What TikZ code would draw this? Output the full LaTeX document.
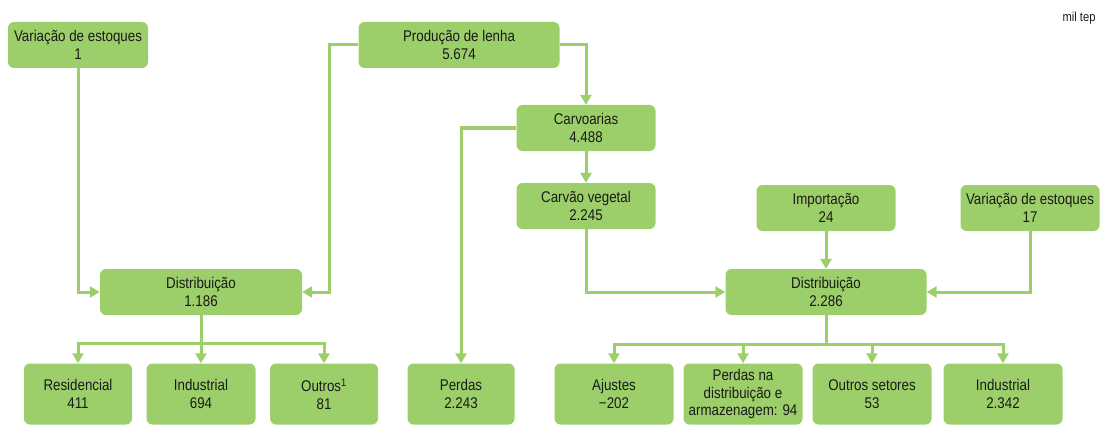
\documentclass[tikz,border=0pt]{standalone}
\usepackage{fontspec}
\setmainfont{Liberation Sans}[FakeStretch=0.86]
\usetikzlibrary{arrows.meta}
\definecolor{boxgreen}{HTML}{9CCF6A}
\definecolor{txtgray}{HTML}{1A1A1A}

\begin{document}
\begin{tikzpicture}[x=1pt,y=-1pt,
    box/.style={fill=boxgreen,rounded corners=6pt,align=center,inner sep=2pt,
        minimum height=46pt,text=txtgray,font=\fontsize{15.5}{18}\selectfont},
    leaf/.style={box,minimum height=61pt,font=\fontsize{15.5}{17.5}\selectfont},
    arr/.style={draw=boxgreen,line width=3pt,-{Triangle[length=10pt,width=11pt]}}]
    \useasboundingbox (0,0) rectangle (1102,425);
    \node[anchor=east,text=txtgray,font=\fontsize{13}{15}\selectfont] (unit) at (1099,18) {mil tep};
    \node[box,minimum width=140pt] (var1) at (78,45) {Variação de estoques\\1};
    \node[box,minimum width=201pt] (lenha) at (459,45) {Produção de lenha\\5.674};
    \node[box,minimum width=139pt] (carv) at (586,128) {Carvoarias\\4.488};
    \node[box,minimum width=139pt] (veg) at (586,206) {Carvão vegetal\\2.245};
    \node[box,minimum width=139pt] (imp) at (826,208) {Importação\\24};
    \node[box,minimum width=139pt] (var17) at (1030,208) {Variação de estoques\\17};
    \node[box,minimum width=202pt] (dist1) at (201,292) {Distribuição\\1.186};
    \node[box,minimum width=201pt] (dist2) at (826,292) {Distribuição\\2.286};
    \node[leaf,minimum width=108pt] (res) at (78,394) {Residencial\\411};
    \node[leaf,minimum width=109pt] (ind1) at (201,394) {Industrial\\694};
    \node[leaf,minimum width=108pt] (out1) at (324,394) {Outros\textsuperscript{1}\\81};
    \node[leaf,minimum width=107pt] (perdas) at (461,394) {Perdas\\2.243};
    \node[leaf,minimum width=119pt] (aju) at (614,394) {Ajustes\\−202};
    \node[leaf,minimum width=119pt] (pdist) at (743,394) {Perdas na\\distribuição e\\armazenagem: 94};
    \node[leaf,minimum width=119pt] (outset) at (872,394) {Outros setores\\53};
    \node[leaf,minimum width=119pt] (ind2) at (1003,394) {Industrial\\2.342};
    \draw[arr] (var1.south) |- (dist1.west);
    \draw[arr] (lenha.west) -- ++(-29,0) |- (dist1.east);
    \draw[arr] (lenha.east) -| (carv.north);
    \draw[arr] (carv.west) -| (perdas.north);
    \draw[arr] (carv.south) -- (veg.north);
    \draw[arr] (veg.south) |- (dist2.west);
    \draw[arr] (imp.south) -- (dist2.north);
    \draw[arr] (var17.south) |- (dist2.east);
    \draw[arr] (dist1.south) -- ++(0,28) -| (res.north);
    \draw[arr] (dist1.south) -- (ind1.north);
    \draw[arr] (dist1.south) -- ++(0,28) -| (out1.north);
    \draw[arr] (dist2.south) -- ++(0,29) -| (aju.north);
    \draw[arr] (dist2.south) -- ++(0,29) -| (pdist.north);
    \draw[arr] (dist2.south) -- ++(0,29) -| (outset.north);
    \draw[arr] (dist2.south) -- ++(0,29) -| (ind2.north);
\end{tikzpicture}
\end{document}
